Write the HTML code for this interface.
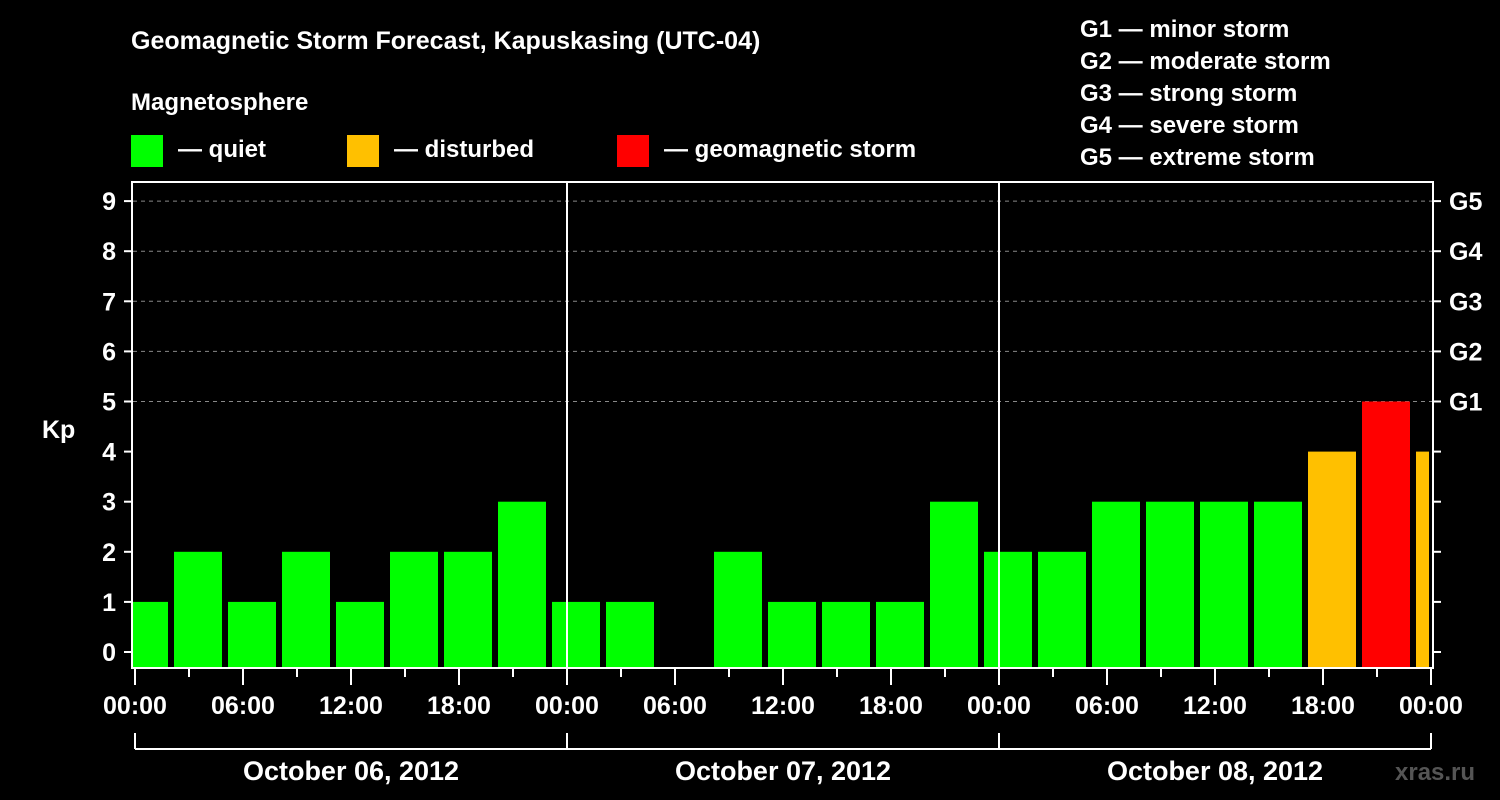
<!DOCTYPE html>
<html><head><meta charset="utf-8"><style>
html,body{margin:0;padding:0;background:#000}
svg{display:block}
text{font-family:"Liberation Sans",Arial,sans-serif;font-weight:bold;fill:#fff}
</style></head><body>
<svg id="chart" width="1500" height="800" viewBox="0 0 1500 800">
<text x="131" y="49" font-size="25">Geomagnetic Storm Forecast, Kapuskasing (UTC-04)</text>
<text x="131" y="110" font-size="24">Magnetosphere</text>
<g><rect x="131" y="135" width="32" height="32" fill="#00ff00"/><text x="178" y="157" font-size="24">— quiet</text></g>
<g><rect x="347" y="135" width="32" height="32" fill="#ffc000"/><text x="394" y="157" font-size="24">— disturbed</text></g>
<g><rect x="617" y="135" width="32" height="32" fill="#ff0000"/><text x="664" y="157" font-size="24">— geomagnetic storm</text></g>
<g font-size="24">
<text x="1080" y="37">G1 — minor storm</text>
<text x="1080" y="69">G2 — moderate storm</text>
<text x="1080" y="101">G3 — strong storm</text>
<text x="1080" y="133">G4 — severe storm</text>
<text x="1080" y="165">G5 — extreme storm</text>
</g>
<text x="42" y="438" font-size="25">Kp</text>
<text x="1395" y="780" font-size="24" fill="#555" style="fill:#555">xras.ru</text>
<defs><clipPath id="pc"><rect x="133" y="182" width="1296" height="486"/></clipPath></defs>
<g id="grid"></g><g id="bars" clip-path="url(#pc)"></g><g id="axes"></g>
</svg>
<script>
const kpValues=[1,2,1,2,1,2,2,3, 1,1,0,2,1,1,1,3, 2,2,3,3,3,3,4,5,4];
const yTicks=[0,1,2,3,4,5,6,7,8,9];
const gLabels=["G1","G2","G3","G4","G5"];
const gLevels=[5,6,7,8,9];
const timeLabels=["00:00","06:00","12:00","18:00","00:00","06:00","12:00","18:00","00:00","06:00","12:00","18:00","00:00"];
const dateLabels=["October 06, 2012","October 07, 2012","October 08, 2012"];
const NS="http://www.w3.org/2000/svg";
const y=v=>652-v*50.1;
const xh=h=>135+h*18; // hours from start
function el(t,a,p){const e=document.createElementNS(NS,t);for(const k in a)e.setAttribute(k,a[k]);p.appendChild(e);return e;}
const grid=document.getElementById('grid'),bars=document.getElementById('bars'),axes=document.getElementById('axes');
gLevels.forEach(v=>{const l=el('line',{x1:133,x2:1432,y1:y(v),y2:y(v),stroke:'#888','stroke-dasharray':'4,4','stroke-width':1},grid);

});
kpValues.forEach((v,i)=>{if(v<=0)return;const c=xh(i*3+0.5);const col=v>=5?'#ff0000':(v>=4?'#ffc000':'#00ff00');
const r=el('rect',{x:c-24,y:y(v),width:48,height:668-y(v),fill:col},bars);

});
[1,2].forEach(d=>{const l=el('line',{x1:xh(d*24),x2:xh(d*24),y1:182,y2:668,stroke:'#fff','stroke-width':2},axes);

});
const fr=el('rect',{x:132,y:182,width:1301,height:486,fill:'none',stroke:'#fff','stroke-width':2},axes);


yTicks.forEach(v=>{el('line',{x1:124,x2:132,y1:y(v),y2:y(v),stroke:'#fff','stroke-width':2},axes);
el('line',{x1:1433,x2:1441,y1:y(v),y2:y(v),stroke:'#fff','stroke-width':2},axes);
const t=el('text',{x:116,y:y(v)+9,'font-size':25,'text-anchor':'end'},axes);t.textContent=v;

});
gLabels.forEach((g,i)=>{const t=el('text',{x:1449,y:y(gLevels[i])+9,'font-size':25},axes);t.textContent=g;

});
for(let h=0;h<=72;h+=3){const maj=h%6===0;el('line',{x1:xh(h),x2:xh(h),y1:668,y2:maj?685:677,stroke:'#fff','stroke-width':2},axes);}
timeLabels.forEach((s,i)=>{const t=el('text',{x:xh(i*6),y:714,'font-size':25,'text-anchor':'middle'},axes);t.textContent=s;

});
el('line',{x1:xh(0),x2:xh(72),y1:749,y2:749,stroke:'#fff','stroke-width':2},axes);
for(let d=0;d<=3;d++)el('line',{x1:xh(d*24),x2:xh(d*24),y1:733,y2:749,stroke:'#fff','stroke-width':2},axes);
dateLabels.forEach((s,i)=>{const t=el('text',{x:xh(i*24+12),y:780,'font-size':27,'text-anchor':'middle'},axes);t.textContent=s;

});
</script>
</body></html>
